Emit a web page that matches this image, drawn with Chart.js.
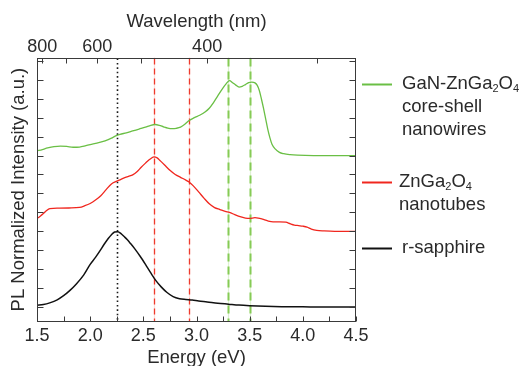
<!DOCTYPE html>
<html><head><meta charset="utf-8">
<script src="https://cdn.jsdelivr.net/npm/chart.js@4/dist/chart.umd.min.js"></script>
<style>html,body{margin:0;padding:0;background:#fff}#c{display:block}</style>
</head><body>
<canvas id="c" width="523" height="366"></canvas>
<script>
// ---- tick definitions ----
const energyTicks = [1.5,1.75,2.0,2.25,2.5,2.75,3.0,3.25,3.5,3.75,4.0,4.25,4.5];
const energyLabels = ['1.5','2.0','2.5','3.0','3.5','4.0','4.5'];
const wavelengthTicks = [800,700,600,500,400,300];
const wavelengthLabels = ['800','600','400'];
const intensityTicks = [0,1,2,3,4,5,6,7,8,9,10,11,12,13];

// ---- series: r-sapphire ----
const sapphireE = [1.50,1.56,1.62,1.69,1.75,1.81,1.87,1.94,2.00,2.05,2.09,2.13,2.17,2.20,2.23,2.26,2.29,2.32,2.35,2.38,2.42,2.47,2.52,2.57,2.62,2.67,2.72,2.78,2.84,2.90,2.96,3.02,3.10,3.20,3.30,3.40,3.50,3.65,3.80,4.00,4.25,4.50];
const sapphireI = [0.09,0.13,0.22,0.38,0.60,0.88,1.22,1.70,2.25,2.62,2.95,3.30,3.62,3.82,3.96,3.98,3.88,3.72,3.55,3.35,3.07,2.68,2.25,1.80,1.38,1.05,0.78,0.55,0.44,0.40,0.37,0.32,0.27,0.20,0.15,0.10,0.07,0.04,0.02,0.01,0.0,0.0];

// ---- series: ZnGa2O4 nanotubes ----
const nanotubeE = [1.50,1.53,1.56,1.59,1.62,1.70,1.80,1.90,1.95,2.00,2.05,2.10,2.15,2.20,2.24,2.28,2.32,2.36,2.40,2.44,2.48,2.52,2.56,2.60,2.63,2.66,2.70,2.75,2.80,2.85,2.90,2.93,2.97,3.02,3.07,3.12,3.17,3.22,3.27,3.31,3.36,3.41,3.46,3.50,3.55,3.58,3.62,3.67,3.72,3.78,3.84,3.88,3.92,3.96,4.00,4.04,4.08,4.13,4.20,4.30,4.40,4.50];
const nanotubeI = [4.68,4.80,4.94,5.10,5.20,5.22,5.23,5.26,5.35,5.47,5.65,5.88,6.20,6.50,6.62,6.72,6.82,6.90,6.98,7.14,7.38,7.60,7.80,7.93,7.88,7.72,7.50,7.22,7.00,6.85,6.70,6.60,6.40,6.08,5.75,5.45,5.25,5.15,5.05,5.00,4.88,4.77,4.70,4.68,4.72,4.70,4.64,4.55,4.50,4.50,4.48,4.40,4.33,4.30,4.27,4.22,4.12,4.05,4.02,4.00,4.00,4.00];

// ---- series: GaN-ZnGa2O4 core-shell nanowires ----
const nanowireE = [1.50,1.55,1.60,1.66,1.72,1.78,1.84,1.90,1.96,2.02,2.08,2.14,2.20,2.24,2.28,2.34,2.40,2.46,2.52,2.57,2.61,2.65,2.69,2.73,2.77,2.81,2.85,2.89,2.93,2.98,3.03,3.08,3.12,3.16,3.20,3.24,3.28,3.31,3.34,3.37,3.40,3.43,3.46,3.49,3.52,3.55,3.57,3.59,3.61,3.63,3.65,3.67,3.69,3.71,3.74,3.78,3.82,3.88,3.95,4.10,4.30,4.50];
const nanowireI = [8.25,8.32,8.40,8.47,8.50,8.48,8.44,8.45,8.52,8.60,8.68,8.78,8.92,9.04,9.12,9.20,9.30,9.40,9.50,9.60,9.64,9.60,9.52,9.45,9.42,9.44,9.50,9.65,9.85,10.00,10.13,10.30,10.50,10.80,11.15,11.50,11.80,11.96,11.85,11.72,11.62,11.66,11.75,11.85,11.88,11.84,11.72,11.45,11.00,10.50,9.95,9.40,8.95,8.60,8.35,8.17,8.10,8.05,8.02,8.00,8.00,8.00];

// ---- peak marker energies ----
const sapphirePeaks = [2.25];
const nanotubePeaks = [2.60, 2.93];
const nanowirePeaks = [3.30, 3.50];

const seriesLabels = [['GaN-ZnGa_2O_4','core-shell','nanowires'],['ZnGa_2O_4','nanotubes'],['r-sapphire']];

const GREEN = '#6abf45', RED = '#f0261e', BLACK = '#111111', TXT = '#2a2a2a';
const FONT = '"Liberation Sans", Arial, sans-serif';

function series(E, I, color, w){
  return {data: E.map((e,i)=>({x:e,y:I[i]})), borderColor: color, borderWidth: w,
    pointRadius: 0, fill: false, cubicInterpolationMode: 'monotone'};
}

const markerPlugin = {
  id: 'markers',
  beforeDatasetsDraw(chart){
    const {ctx, chartArea:a, scales:{x}} = chart;
    const groups = [
      {vals: sapphirePeaks, color: '#1a1a1a', dash: [1.6,2.8], w: 1.6, under: null},
      {vals: nanotubePeaks, color: '#ef3a2c', dash: [6,4], w: 1.3, under: 'rgba(240,60,45,0.18)'},
      {vals: nanowirePeaks, color: '#86cb55', dash: [8,5], w: 2, under: 'rgba(134,203,85,0.28)'}
    ];
    ctx.save();
    groups.forEach(g => g.vals.forEach(v => {
      const px = Math.round(x.getPixelForValue(v)) + 0.5;
      if (g.under){
        ctx.setLineDash([]); ctx.strokeStyle = g.under; ctx.lineWidth = 1.2;
        ctx.beginPath(); ctx.moveTo(px, a.top); ctx.lineTo(px, a.bottom); ctx.stroke();
      }
      ctx.setLineDash(g.dash); ctx.strokeStyle = g.color; ctx.lineWidth = g.w;
      ctx.beginPath(); ctx.moveTo(px, a.top + 1); ctx.lineTo(px, a.bottom); ctx.stroke();
    }));
    ctx.restore();
  }
};

const framePlugin = {
  id: 'frame',
  afterDraw(chart){
    const {ctx, chartArea:a, scales} = chart;
    ctx.save();
    ctx.strokeStyle = '#3a3a3a'; ctx.lineWidth = 1; ctx.setLineDash([]);
    const L = Math.round(a.left)+0.5, R = Math.round(a.right)-0.5, T = Math.round(a.top)+0.5, B = Math.round(a.bottom)-0.5;
    ctx.strokeRect(L, T, R-L, B-T);
    const seg = (x1,y1,x2,y2)=>{ctx.beginPath();ctx.moveTo(x1,y1);ctx.lineTo(x2,y2);ctx.stroke();};
    scales.x.ticks.forEach(t => { const p = Math.round(scales.x.getPixelForValue(t.value))+0.5; seg(p,B,p,B-5); });
    scales.x2.ticks.forEach(t => { const p = Math.round(scales.x2.getPixelForValue(t.value))+0.5; seg(p,T,p,T+5); });
    scales.y.ticks.forEach(t => { const p = Math.round(scales.y.getPixelForValue(t.value))+0.5; seg(L,p,L+6,p); seg(R,p,R-6,p); });
    ctx.restore();
  }
};

function drawRich(ctx, text, x, y){
  const parts = text.split(/(_\d)/).filter(s=>s.length);
  parts.forEach(p => {
    const sub = p[0] === '_';
    const t = sub ? p.slice(1) : p;
    ctx.font = (sub ? '11px ' : '18.5px ') + FONT;
    ctx.fillText(t, x, sub ? y + 5 : y);
    x += ctx.measureText(t).width;
  });
}

const legendPlugin = {
  id: 'customLegend',
  afterDraw(chart){
    const {ctx, chartArea:a} = chart;
    const entries = [
      {color: GREEN, y: 84, tx: 46, lines: seriesLabels[0]},
      {color: RED, y: 182, tx: 43, lines: seriesLabels[1]},
      {color: BLACK, y: 248, tx: 46, lines: seriesLabels[2]}
    ];
    ctx.save();
    ctx.textBaseline = 'middle'; ctx.textAlign = 'left'; ctx.fillStyle = TXT;
    entries.forEach(e => {
      ctx.strokeStyle = e.color; ctx.lineWidth = 2;
      ctx.beginPath(); ctx.moveTo(a.right + 6, e.y + 0.5); ctx.lineTo(a.right + 36, e.y + 0.5); ctx.stroke();
      e.lines.forEach((ln, i) => drawRich(ctx, ln, a.right + e.tx, e.y + i * 23));
    });
    ctx.restore();
  }
};

new Chart(document.getElementById('c'), {
  type: 'line',
  data: { datasets: [
    series(nanowireE, nanowireI, GREEN, 1.3),
    series(nanotubeE, nanotubeI, RED, 1.3),
    series(sapphireE, sapphireI, BLACK, 1.5)
  ]},
  options: {
    responsive: false, animation: false, devicePixelRatio: 1,
    layout: { padding: { left: 0, right: 167, top: 0, bottom: 0 } },
    plugins: { legend: { display: false }, tooltip: { enabled: false } },
    scales: {
      x: {
        type: 'linear', position: 'bottom', min: 1.5, max: 4.5,
        afterBuildTicks: s => { s.ticks = energyTicks.map(v => ({value: v})); },
        afterFit: s => { s.height = 44.3; },
        grid: { display: false, drawTicks: false }, border: { display: false },
        ticks: { autoSkip: false, maxRotation: 0, minRotation: 0, padding: 4, color: TXT,
          font: { family: FONT, size: 18 },
          callback: v => { const s = v.toFixed(1); return (Math.abs(v*2 - Math.round(v*2)) < 1e-6 && energyLabels.includes(s)) ? s : ''; } },
        title: { display: true, text: 'Energy (eV)', color: TXT, font: { family: FONT, size: 18.5 }, padding: { top: 0, bottom: -3 } }
      },
      x2: {
        type: 'linear', position: 'top', min: 1.5, max: 4.5,
        afterBuildTicks: s => { s.ticks = wavelengthTicks.map(w => ({value: 1240 / w})); },
        afterFit: s => { s.height = 57.5; },
        grid: { display: false, drawTicks: false }, border: { display: false },
        ticks: { autoSkip: false, maxRotation: 0, minRotation: 0, padding: 0, color: TXT,
          font: { family: FONT, size: 18 },
          callback: v => { const w = String(Math.round(1240 / v)); return wavelengthLabels.includes(w) ? w : ''; } },
        title: { display: true, text: 'Wavelength (nm)', color: TXT, font: { family: FONT, size: 18.5 }, padding: { top: 10.5, bottom: 0 } }
      },
      y: {
        type: 'linear', position: 'left', min: -0.776, max: 13.18,
        afterBuildTicks: s => { s.ticks = intensityTicks.map(v => ({value: v})); },
        afterFit: s => { s.width = 37; },
        grid: { display: false, drawTicks: false }, border: { display: false },
        ticks: { display: false },
        title: { display: true, text: 'PL Normalized Intensity (a.u.)', color: TXT, font: { family: FONT, size: 18.5 }, padding: { top: 8, bottom: 0 } }
      }
    }
  },
  plugins: [markerPlugin, framePlugin, legendPlugin]
});
</script>
</body></html>
